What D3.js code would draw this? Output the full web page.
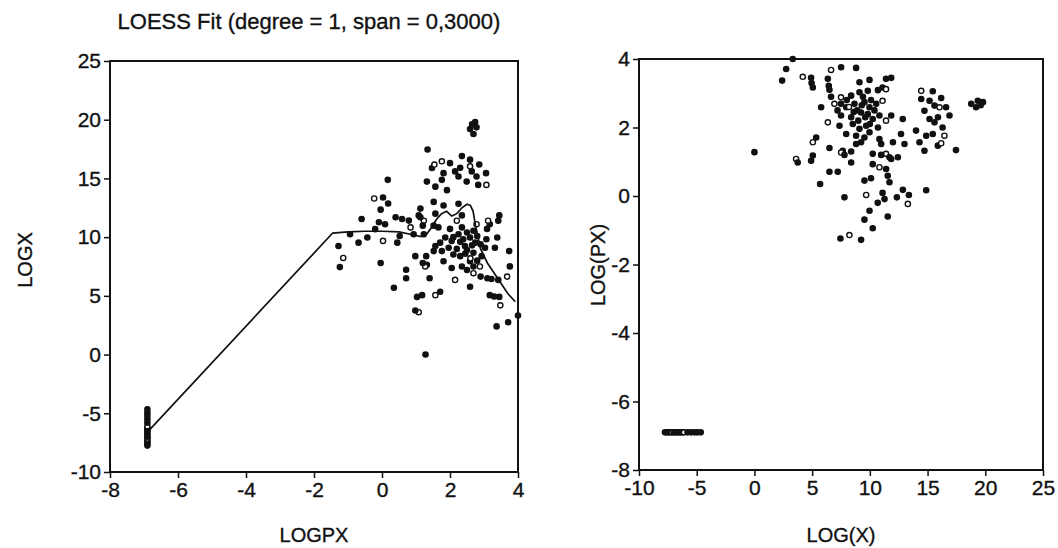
<!DOCTYPE html>
<html>
<head>
    <meta charset="utf-8">
    <title>LOESS Fit</title>
    <style>
        body { margin: 0; background: #fff; }
        text { font-family: "Liberation Sans", Arial, sans-serif; fill: #111; stroke: #111; stroke-width: 0.35; }
        .domain { display: none; }
        .tick line { stroke: #111; stroke-width: 1.5; }
        .frame { fill: none; stroke: #111; stroke-width: 2; }
    </style>
    <script src="https://d3js.org/d3.v7.min.js"></script>
</head>
<body>
    <svg id="chart"></svg>

    <script>
        // LOG(X) and LOG(PX) for each observation (same points in both panels)
        var logX = [
            3.32, 2.75, 2.4, 4.19, 4.91, 5.06, 4.95, 6.36, 6.44, 6.5, 6.64, 7.51, 8.81, 9.1, 9.97, 11.4,
            6.64, 7.5, 8.38, 9.1, 9.82, 10.7, 11.1, 5.78, 6.93, 7.5, 7.95, 8.67, 9.53, 9.97, 10.55, 11.1,
            7.5, 8.38, 9.24, 9.82, 10.25, 10.83, 6.36, 7.37, 8.52, 9.1, 9.68, 9.97, 10.7, 11.4,
            7.95, 8.81, 9.53, 10.83, 9.24, 8.81, 5.06, 5.35, 6.5, 7.65, 8.38, 10.25, 10.98, 11.4,
            8.0, 8.9, 9.4, 10.1, 9.0, 10.4, 8.2, 9.6, 10.0, 8.6, 7.2, 9.3,
            11.85, 11.4, 11.85, 12.85, 12.7, 12.0, 13.0, 11.85,
            14.45, 15.45, 14.45, 15.17, 16.18, 14.73, 15.6, 16.03, 16.6, 16.9, 15.17, 15.6, 15.9, 16.3,
            16.46, 15.45, 14.88, 14.0, 14.3, 14.73, 15.89, 16.18, 17.46, 18.78, 19.2, 19.35, 19.8, 19.6,
            3.61, 3.75, 5.06, 4.91, 6.5, 7.22, 5.69, 7.51, 7.8, 8.38, 10.98, 11.7, 12.43, 10.25, 10.83,
            11.41, 11.55, 11.7, 9.53, 10.1, 7.8, 9.68, 11.1, 11.27, 10.68, 12.34, 12.86, 13.38, 13.29,
            14.88, 9.97, 11.55, 9.53, 10.25, 7.45, 8.23, 9.24, 0,
            -7.75, -7.6, -7.45, -7.3, -7.15, -7.0, -6.85, -6.7, -6.55, -6.4, -6.25, -6.1, -5.8, -5.5,
            -5.2, -4.95, -4.65
        ];
        var logPX = [
            4.0, 3.71, 3.37, 3.48, 3.45, 3.17, 3.3, 3.42, 3.22, 3.1, 3.68, 3.76, 3.74, 3.32, 3.39, 3.42,
            2.9, 2.88, 2.93, 3.03, 3.07, 3.09, 3.17, 2.59, 2.69, 2.69, 2.59, 2.69, 2.74, 2.59, 2.69, 2.78,
            2.35, 2.3, 2.44, 2.39, 2.25, 2.35, 2.15, 2.05, 2.1, 1.96, 2.05, 1.86, 2.0, 2.2,
            1.81, 1.76, 1.71, 1.66, 1.57, 1.52, 1.57, 1.71, 1.4, 1.32, 1.3, 1.23, 1.52, 1.23,
            2.8, 2.5, 2.9, 2.8, 2.2, 2.5, 2.6, 2.3, 2.1, 2.45, 2.5, 2.65,
            3.45, 3.12, 2.35, 2.25, 1.81, 1.57, 1.52, 1.08,
            3.07, 3.06, 2.83, 2.78, 2.86, 2.49, 2.64, 2.59, 2.59, 2.35, 2.25, 2.15, 2.3, 2.0,
            1.76, 1.81, 1.76, 1.91, 1.57, 1.32, 1.47, 1.54, 1.34, 2.69, 2.59, 2.78, 2.74, 2.65,
            1.08, 0.98, 1.18, 1.03, 0.71, 0.71, 0.35, 1.27, 1.2, 0.98, 1.2, 1.13, 1.13, 0.93, 0.84,
            0.79, 0.59, 0.4, 0.45, 0.52, -0.04, 0.03, 0.09, -0.09, -0.2, -0.04, 0.18, 0.03, -0.23,
            0.17, -0.43, -0.6, -0.69, -0.94, -1.24, -1.14, -1.28, 1.28,
            -6.9, -6.9, -6.9, -6.9, -6.9, -6.9, -6.9, -6.9, -6.9, -6.9, -6.9, -6.9, -6.9, -6.9,
            -6.9, -6.9, -6.9
        ];

        // LOESS curve
        var loessPX = [-6.9, -1.45, -1.0, -0.5, 0, 0.5, 0.9, 1.15, 1.3, 1.45, 1.6, 1.75, 1.9, 2.05, 2.2, 2.35, 2.5, 2.6, 2.68, 2.75, 2.9, 3.1, 3.4, 3.7, 3.92];
        var loessX  = [-6.6, 10.35, 10.45, 10.5, 10.5, 10.45, 10.2, 10.05, 10.2, 10.8, 11.5, 12.0, 12.2, 11.8, 12.0, 12.5, 12.8, 12.7, 12.2, 11.0, 9.0, 7.8, 6.5, 5.2, 4.5];

        var leftXTicks = [-8, -6, -4, -2, 0, 2, 4];
        var leftYTicks = [-10, -5, 0, 5, 10, 15, 20, 25];
        var rightXTicks = [-10, -5, 0, 5, 10, 15, 20, 25];
        var rightYTicks = [-8, -6, -4, -2, 0, 2, 4];

        var points = logX.map((d, i) => ({ x: d, px: logPX[i] }));
        var curve = loessPX.map((d, i) => ({ px: d, x: loessX[i] }));

        const width = 1058;
        const height = 548;
        const fmt = d => String(d);

        const svg = d3.select('#chart')
            .attr('width', width)
            .attr('height', height);

        function panel(cfg) {
            const g = svg.append('g');
            const x = d3.scaleLinear().domain(cfg.xDomain).range(cfg.xRange);
            const y = d3.scaleLinear().domain(cfg.yDomain).range(cfg.yRange);

            g.append('g')
                .attr('transform', `translate(0,${cfg.yRange[0]})`)
                .call(d3.axisBottom(x).tickValues(cfg.xTicks).tickFormat(fmt).tickSize(6).tickPadding(4))
                .selectAll('text').attr('font-size', 21);

            g.append('g')
                .attr('transform', `translate(${cfg.xRange[0]},0)`)
                .call(d3.axisLeft(y).tickValues(cfg.yTicks).tickFormat(fmt).tickSize(6).tickPadding(3))
                .selectAll('text').attr('font-size', 21);

            g.append('rect')
                .attr('class', 'frame')
                .attr('x', cfg.xRange[0])
                .attr('y', cfg.yRange[1])
                .attr('width', cfg.xRange[1] - cfg.xRange[0])
                .attr('height', cfg.yRange[0] - cfg.yRange[1]);

            g.append('text')
                .attr('x', (cfg.xRange[0] + cfg.xRange[1]) / 2)
                .attr('y', 542)
                .attr('text-anchor', 'middle')
                .attr('font-size', 20)
                .text(cfg.xLabel);

            g.append('text')
                .attr('transform', `translate(${cfg.yLabelX},${cfg.yLabelY}) rotate(-90)`)
                .attr('text-anchor', 'middle')
                .attr('font-size', 20)
                .text(cfg.yLabel);

            g.append('g').selectAll('circle')
                .data(points.filter(d => cfg.px(d) >= cfg.xDomain[0] && cfg.px(d) <= cfg.xDomain[1]
                    && cfg.py(d) >= cfg.yDomain[0] && cfg.py(d) <= cfg.yDomain[1]))
                .enter().append('circle')
                .attr('cx', d => x(cfg.px(d)))
                .attr('cy', d => y(cfg.py(d)))
                .attr('r', 2.6)
                .attr('fill', (d, i) => i % 7 === 3 ? '#fff' : '#111')
                .attr('stroke', '#111')
                .attr('stroke-width', 1.4);

            return { x: x, y: y, g: g };
        }

        const left = panel({
            xDomain: [-8, 4], xRange: [110, 518],
            yDomain: [-10, 25], yRange: [472, 61],
            xTicks: leftXTicks, yTicks: leftYTicks,
            xLabel: 'LOGPX', yLabel: 'LOGX', yLabelX: 32, yLabelY: 260,
            px: d => d.px, py: d => d.x
        });

        left.g.append('path')
            .datum(curve)
            .attr('fill', 'none')
            .attr('stroke', '#111')
            .attr('stroke-width', 1.7)
            .attr('d', d3.line().x(d => left.x(d.px)).y(d => left.y(d.x)));

        panel({
            xDomain: [-10, 25], xRange: [639, 1043],
            yDomain: [-8, 4], yRange: [470, 59],
            xTicks: rightXTicks, yTicks: rightYTicks,
            xLabel: 'LOG(X)', yLabel: 'LOG(PX)', yLabelX: 605, yLabelY: 265,
            px: d => d.x, py: d => d.px
        });

        svg.append('text')
            .attr('x', 309)
            .attr('y', 29)
            .attr('text-anchor', 'middle')
            .attr('font-size', 22)
            .text('LOESS Fit (degree = 1, span = 0,3000)');
    </script>
</body>
</html>
